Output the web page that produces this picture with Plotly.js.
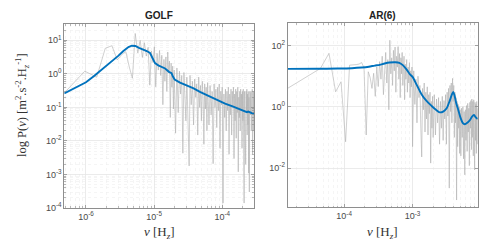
<!DOCTYPE html>
<html>
<head>
<meta charset="utf-8">
<script src="https://cdn.plot.ly/plotly-3.0.1.min.js"></script>
<style>html,body{margin:0;padding:0;background:#fff;}#chart{width:491px;height:245px;}</style>
</head>
<body>
<div id="chart"></div>
<script>
// ---- GOLF periodogram (frequency in µHz, power) ----
const golfFreqUHz = [0.48,0.96,1.44,1.92,2.40,2.88,3.36,3.84,4.32,4.80,5.28,5.76,6.24,6.72,7.20,7.68,8.16,8.64,9.12,9.60,
 10.08,10.56,11.04,11.52,12.00,12.48,12.96,13.44,13.92,14.40,14.88,15.36,15.84,16.32,16.80,17.28,17.76,18.24,18.72,19.20,19.68,
 20.64,21.60,22.56,23.52,24.48,25.44,26.40,27.36,28.32,29.28,30.24,31.20,32.64,33.60,35.04,36.48,37.92,39.36,40.80,42.24,43.68,
 45.12,46.56,48.00,49.44,50.88,52.32,53.76,55.20,56.64,58.08,59.52,60.96,62.40,63.84,66.24,68.64,71.04,73.44,75.84,78.24,80.64,
 83.04,85.44,87.84,90.24,92.64,95.04,97.44,99.84,102.7,105.6,108.5,111.4,114.2,117.1,120.0,122.9,125.8,128.6,131.5,134.4,137.3,
 140.2,143.0,145.9,148.8,151.7,154.6,157.4,160.3,163.2,166.1,169.0,171.8,174.7,177.6,180.5,183.4,186.2,189.1,192.0,194.9,197.8,
 200.6,203.5,206.4,209.3,212.2,215.0,217.9,220.8,223.7,226.6,229.4,232.3,235.2,238.1,241.0,243.8,246.7,249.6,252.5,255.4,258.2,
 261.1,264.0,266.9,269.8,272.6,275.5,278.4,281.3,284.2,287.0,289.9,292.8,295.0];
const golfPower = [0.27,1.2,0.8,5.8,6.9,2.6,3.8,4.6,1.6,0.74,16,4.2,10,3.1,8.5,3.4,6.2,0.46,4.8,2.2,
 6.4,0.41,4.1,1.3,5.0,0.9,3.6,0.12,2.7,0.6,3.2,0.3,4.5,1.1,2.4,0.05,2.1,0.4,1.7,0.09,1.3,
 0.017,1.5,0.07,1.2,0.25,0.9,0.0043,1.1,0.15,0.04,0.8,0.06,0.0018,0.9,0.12,0.6,0.03,0.7,0.2,0.5,0.015,
 0.8,0.1,0.45,0.04,0.6,0.2,0.008,0.5,0.09,0.4,0.02,0.55,0.15,0.03,0.45,0.06,0.3,0.0021,0.5,0.1,0.35,
 0.025,0.4,0.08,0.5,0.006,0.3,0.12,0.4,0.00014,0.25,0.05,0.35,0.02,0.3,0.08,0.4,0.004,0.25,0.06,0.35,0.015,
 0.3,0.1,0.4,0.003,0.25,0.04,0.35,0.012,0.3,0.07,0.4,0.0012,0.2,0.05,0.3,0.02,0.35,0.08,0.25,0.006,0.3,
 0.04,0.35,0.01,0.00014,0.3,0.05,0.25,0.002,0.3,0.07,0.35,0.015,0.25,0.03,0.3,0.0011,0.2,0.0003,0.3,0.008,0.25,
 0.06,0.3,0.02,0.3,0.07,0.35,0.004,0.25,0.05,0.3,0.02,0.2,0.06];
// ---- GOLF smoothed spectrum ----
const golfFitFreqUHz = [0.48,0.7,1.0,1.3,1.6,2.0,2.5,3.0,3.5,4.2,4.7,5.3,6.0,6.9,7.8,8.7,9.3,10.3,11.5,13.0,14.5,16.5,18.0,18.8,20.0,24.0,30.0,38.0,47.0,60.0,82.0,110,145,180,210,230,240,255,275,295];
const golfFit = [0.26,0.38,0.56,0.85,1.2,1.75,2.5,3.5,4.7,6.3,6.9,6.8,6.0,5.4,4.8,4.2,3.2,2.1,1.8,1.6,1.45,1.15,1.05,0.85,0.68,0.55,0.46,0.37,0.29,0.23,0.166,0.13,0.105,0.088,0.077,0.072,0.075,0.07,0.067,0.065];

// ---- AR(6) periodogram (frequency in µHz, power) ----
const arFreqUHz = [15,30,45,60,75,90,105,120,135,150,165,180,195,210,225,240,255,270,285,300,
 315,330,345,360,375,390,405,420,435,450,465,480,495,510,525,540,555,570,585,600,615,630,645,660,675,690,705,720,735,750,765,780,
 800,820,840,860,880,900,920,940,960,980,1000,
 1040,1080,1120,1160,1200,1240,1280,1320,1360,1400,1440,1480,1520,1560,1600,1640,1680,1720,1760,1800,1840,1880,1920,1960,2000,
 2080,2160,2240,2320,2400,2480,2560,2640,2720,2800,2880,2960,3040,3120,3200,3280,3360,3440,3520,3600,3680,3760,3840,3920,4000,
 4080,4160,4240,4320,4400,4480,4560,4640,4720,4800,4880,4960,
 5080,5200,5320,5440,5560,5680,5800,5920,6040,6160,6280,6400,6520,6640,6760,6880,7000,7120,7240,7360,7480,7600,7720,7840,7960,
 8080,8200,8320,8440,8560,8680,8800,8950];
const arPower = [4.05,10.4,18,56,3.1,6.6,0.072,23,23,24,25,28,19,0.12,14,9,4,12.5,2.2,20,
 4.6,30,8,45,2.5,25,60,6,35,0.8,150,12,40,5,70,15,90,3,45,20,93,8,55,2,40,12,60,5,30,45,1.7,25,
 8,35,3,20,6,28,2,15,4.5,20,0.05,
 15,1.2,8,0.3,10,2,5,0.2,0.023,4,0.8,6,0.15,3,0.4,4.5,0.12,2.5,0.6,3,0.0145,1.5,0.2,2.2,0.1,
 2.5,0.12,1.8,0.3,2,0.06,1.5,0.2,2.2,0.08,1.6,0.4,2.5,0.06,3,0.5,4,0.0022,5,0.7,6,0.3,8.5,1.5,5,
 0.1,3,0.3,2,0.0009,1.5,0.05,1.2,0.2,1,0.03,0.8,
 0.025,0.9,0.1,1,0.02,0.7,0.006,0.8,0.08,1.1,0.035,1.3,0.15,0.9,0.012,1.4,0.2,1.6,0.04,1.8,0.1,1.5,0.025,1.7,0.15,
 0.0087,1.4,0.08,1.2,0.03,1.5,0.06,0.9];
// ---- AR(6) model spectrum ----
const arFitFreqUHz = [15,40,80,130,180,230,280,330,390,460,560,640,720,820,910,1000,1150,1350,1600,1900,2200,2500,2800,3150,3500,3750,3930,4100,4350,4650,5000,5400,5800,6300,6900,7400,7900,8400,8950];
const arFit = [17.4,17.5,17.8,18.3,19.2,20.5,22.3,23.5,26.0,28.0,28.7,27.5,23,16.5,11.8,9.5,5.2,2.6,1.55,1.07,0.8,0.66,0.7,0.9,1.6,2.5,3.05,2.4,1.3,0.8,0.45,0.3,0.27,0.3,0.37,0.48,0.54,0.45,0.40];

const toHz = a => a.map(v => v * 1e-6);

// minor tick positions (digits 2..9 per decade)
function minorVals(d0, d1) {
  const out = [];
  for (let d = d0; d <= d1; d++) for (let k = 2; k <= 9; k++) out.push(k * Math.pow(10, d));
  return out;
}
const sup = e => '10<sup>' + e + '</sup>';

const grayLine = {color: '#b0b0b0', width: 0.6};
const blueLine = {color: '#0072BD', width: 1.9};

const traces = [
  {x: toHz(golfFreqUHz), y: golfPower, type: 'scatter', mode: 'lines', line: grayLine, xaxis: 'x', yaxis: 'y', hoverinfo: 'skip'},
  {x: toHz(golfFitFreqUHz), y: golfFit, type: 'scatter', mode: 'lines', line: blueLine, xaxis: 'x', yaxis: 'y'},
  {x: toHz(arFreqUHz), y: arPower, type: 'scatter', mode: 'lines', line: grayLine, xaxis: 'x2', yaxis: 'y2', hoverinfo: 'skip'},
  {x: toHz(arFitFreqUHz), y: arFit, type: 'scatter', mode: 'lines', line: Object.assign({shape: 'spline', smoothing: 0.7}, blueLine), xaxis: 'x2', yaxis: 'y2'}
];

const axCol = '#8e8e8e';
const tickFont = {family: 'Liberation Sans, Arial, sans-serif', size: 9, color: '#4a4a4a'};
function axis(extra) {
  return Object.assign({
    type: 'log', showline: true, linecolor: axCol, linewidth: 1, mirror: 'ticks',
    ticks: 'inside', ticklen: 3, tickcolor: axCol, tickwidth: 0.8,
    showgrid: true, gridcolor: '#e6e6e6', gridwidth: 0.8, zeroline: false,
    tickfont: tickFont, tickmode: 'array', fixedrange: true
  }, extra);
}
const minorStyle = (vals, grid) => ({tickmode: 'array', tickvals: vals, ticks: 'inside', ticklen: 1.8, tickcolor: axCol, tickwidth: 0.6,
  showgrid: grid, gridcolor: '#efefef', griddash: 'dot', gridwidth: 0.6});

const serif = 'Liberation Serif, Times New Roman, serif';
const layout = {
  width: 491, height: 245, margin: {l: 0, r: 0, t: 0, b: 0},
  paper_bgcolor: '#ffffff', plot_bgcolor: '#ffffff', showlegend: false,
  xaxis: axis({domain: [0.1310, 0.5179], range: [-6.318, -3.53], anchor: 'y',
    tickvals: [1e-6, 1e-5, 1e-4], ticktext: [sup('-6'), sup('-5'), sup('-4')],
    minor: minorStyle(minorVals(-7, -4), true)}),
  yaxis: axis({domain: [0.1510, 0.9008], range: [-4, 1.478], anchor: 'x',
    tickvals: [1e-4, 1e-3, 1e-2, 1e-1, 1, 10], ticktext: [sup('-4'), sup('-3'), sup('-2'), sup('-1'), sup('0'), sup('1')],
    minor: minorStyle(minorVals(-4, 1), true)}),
  xaxis2: axis({domain: [0.5860, 0.9729], range: [-4.825, -2.048], anchor: 'y2',
    tickvals: [1e-4, 1e-3], ticktext: [sup('-4'), sup('-3')],
    minor: minorStyle(minorVals(-5, -3), true)}),
  yaxis2: axis({domain: [0.1531, 0.9049], range: [-3.29, 2.73], anchor: 'x2',
    tickvals: [1e-2, 1, 100], ticktext: [sup('-2'), sup('0'), sup('2')]}),
  annotations: [
    {text: '<b>GOLF</b>', xref: 'paper', yref: 'paper', x: 0.3244, y: 0.9347, xanchor: 'center', yanchor: 'middle', showarrow: false,
     font: {family: 'Liberation Sans, Arial, sans-serif', size: 10, color: '#222'}},
    {text: '<b>AR(6)</b>', xref: 'paper', yref: 'paper', x: 0.7794, y: 0.9367, xanchor: 'center', yanchor: 'middle', showarrow: false,
     font: {family: 'Liberation Sans, Arial, sans-serif', size: 10, color: '#222'}},
    {text: 'log P(<i>ν</i>) [m<sup>2</sup>.s<sup>-2</sup>.H<sub><i>z</i></sub><sup>-1</sup>]', xref: 'paper', yref: 'paper',
     x: 0.0448, y: 0.5714, xanchor: 'center', yanchor: 'middle', textangle: -90, showarrow: false,
     font: {family: serif, size: 12.5, color: '#333'}},
    {text: '<i>ν</i> [H<sub><i>z</i></sub>]', xref: 'paper', yref: 'paper', x: 0.3244, y: 0.049, xanchor: 'center', yanchor: 'middle', showarrow: false,
     font: {family: serif, size: 13, color: '#333'}},
    {text: '<i>ν</i> [H<sub><i>z</i></sub>]', xref: 'paper', yref: 'paper', x: 0.7794, y: 0.049, xanchor: 'center', yanchor: 'middle', showarrow: false,
     font: {family: serif, size: 13, color: '#333'}}
  ]
};

Plotly.newPlot('chart', traces, layout, {staticPlot: true, displayModeBar: false});
</script>
</body>
</html>
